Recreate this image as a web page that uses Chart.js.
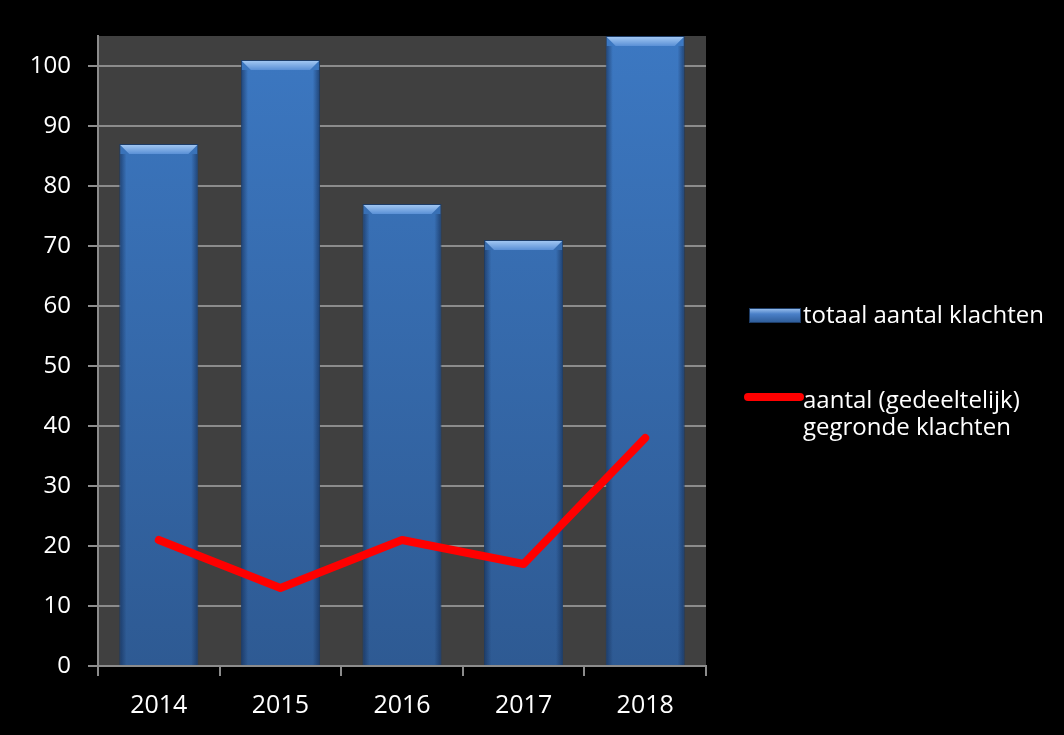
<!DOCTYPE html>
<html>
<head>
<meta charset="utf-8">
<script src="https://cdn.jsdelivr.net/npm/chart.js@4"></script>
<style>
  html, body { margin: 0; padding: 0; background: #000; }
  #wrap { width: 1064px; height: 735px; }
</style>
</head>
<body>
<div id="wrap"><canvas id="myChart" width="1064" height="735"></canvas></div>
<script>
const jaren = ['2014', '2015', '2016', '2017', '2018'];
const totaalKlachten = [87, 101, 77, 71, 105];
const gegrondeKlachten = [21, 13, 21, 17, 38];
const legendaTotaal = 'totaal aantal klachten';
const legendaGegrond = ['aantal (gedeeltelijk)', 'gegronde klachten'];

const font = { family: '"Open Sans", sans-serif', size: 24 };

// achtergrond van het plotgebied
const plotAchtergrond = {
  id: 'plotAchtergrond',
  beforeDraw(chart) {
    const { ctx, chartArea: a } = chart;
    ctx.save();
    ctx.fillStyle = '#404040';
    ctx.fillRect(a.left, a.top, a.right - a.left, a.bottom - a.top);
    ctx.restore();
  }
};

// schuine rand bovenaan de staven
const afschuining = {
  id: 'afschuining',
  afterDatasetDraw(chart, args) {
    if (args.meta.type !== 'bar') return;
    const ctx = chart.ctx;
    const top = chart.chartArea.top;
    args.meta.data.forEach(bar => {
      const l = bar.x - bar.width / 2 + 1, r = bar.x + bar.width / 2 - 1;
      const y = Math.max(bar.y, top) + 1;
      const d = 9;
      ctx.save();
      // donkere zijkanten
      const z = ctx.createLinearGradient(l, 0, r, 0);
      z.addColorStop(0, 'rgba(20,45,85,0.6)');
      z.addColorStop(0.08, 'rgba(20,45,85,0)');
      z.addColorStop(0.92, 'rgba(20,45,85,0)');
      z.addColorStop(1, 'rgba(20,45,85,0.6)');
      ctx.fillStyle = z;
      ctx.fillRect(l, y + d, r - l, bar.base - y - d);
      // lichte bovenrand
      ctx.beginPath();
      ctx.moveTo(l, y); ctx.lineTo(r, y); ctx.lineTo(r - d, y + d); ctx.lineTo(l + d, y + d);
      ctx.closePath();
      const g = ctx.createLinearGradient(0, y, 0, y + d);
      g.addColorStop(0, '#a0c6f2');
      g.addColorStop(1, '#5a90d6');
      ctx.fillStyle = g;
      ctx.fill();
      ctx.restore();
    });
  }
};

// legenda rechts
const legenda = {
  id: 'legenda',
  afterDraw(chart) {
    const ctx = chart.ctx;
    ctx.save();
    ctx.font = '24px "Open Sans", sans-serif';
    ctx.textBaseline = 'middle';
    const g = ctx.createLinearGradient(0, 308, 0, 323);
    g.addColorStop(0, '#a0c6f2');
    g.addColorStop(0.4, '#4a80c8');
    g.addColorStop(1, '#2c5a96');
    ctx.fillStyle = g;
    ctx.fillRect(749, 308, 52, 15);
    ctx.strokeStyle = '#1d3c66';
    ctx.lineWidth = 1;
    ctx.strokeRect(749.5, 308.5, 51, 14);
    ctx.fillStyle = '#ffffff';
    ctx.fillText(legendaTotaal, 803, 316);

    ctx.strokeStyle = '#ff0000';
    ctx.lineWidth = 8;
    ctx.lineCap = 'round';
    ctx.beginPath();
    ctx.moveTo(748, 397); ctx.lineTo(800, 397);
    ctx.stroke();
    ctx.fillText(legendaGegrond[0], 803, 401);
    ctx.fillText(legendaGegrond[1], 803, 428);
    ctx.restore();
  }
};

function staafKleur(context) {
  const chart = context.chart;
  const a = chart.chartArea;
  if (!a) return '#3a72b8';
  const g = chart.ctx.createLinearGradient(0, a.top, 0, a.bottom);
  g.addColorStop(0, '#3c78c2');
  g.addColorStop(1, '#2e5a93');
  return g;
}

new Chart(document.getElementById('myChart'), {
  data: {
    labels: jaren,
    datasets: [
      {
        type: 'line',
        label: 'aantal (gedeeltelijk) gegronde klachten',
        data: gegrondeKlachten,
        borderColor: '#ff0000',
        borderWidth: 8,
        borderCapStyle: 'round',
        borderJoinStyle: 'round',
        pointRadius: 0,
        tension: 0,
        order: 1
      },
      {
        type: 'bar',
        label: legendaTotaal,
        data: totaalKlachten,
        backgroundColor: staafKleur,
        borderColor: '#1d3c66',
        borderWidth: 1,
        categoryPercentage: 0.65,
        barPercentage: 1,
        order: 2
      }
    ]
  },
  options: {
    responsive: false,
    animation: false,
    layout: { padding: { left: 0, top: 36, right: 358, bottom: 0 } },
    plugins: { legend: { display: false }, tooltip: { enabled: false } },
    scales: {
      x: {
        grid: { display: true, drawOnChartArea: false, color: '#8c8c8c', lineWidth: 2, tickLength: 10, offset: true },
        border: { color: '#8c8c8c', width: 2 },
        ticks: { color: '#ffffff', font: { family: font.family, size: 25 }, padding: 15 },
        afterFit(s) { s.height = 69; }
      },
      y: {
        min: 0, max: 105,
        grid: { color: '#8c8c8c', lineWidth: 2, tickLength: 10 },
        border: { color: '#8c8c8c', width: 2 },
        ticks: { color: '#ffffff', font: font, stepSize: 10, padding: 17 },
        afterBuildTicks(s) { s.ticks = s.ticks.filter(t => t.value <= 100); },
        afterFit(s) { s.width = 98; }
      }
    }
  },
  plugins: [plotAchtergrond, afschuining, legenda]
});
</script>
</body>
</html>
